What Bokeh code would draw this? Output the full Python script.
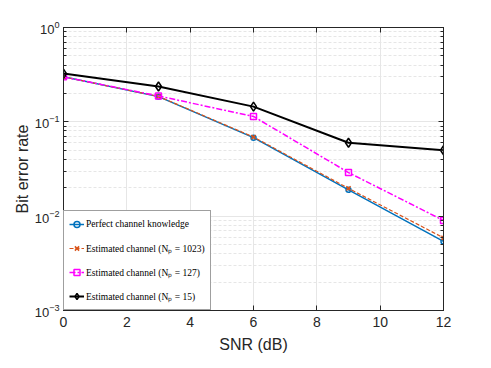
from bokeh.plotting import figure
from bokeh.models import Range1d, LogAxis, LinearAxis, LogTicker, FixedTicker, Legend, LegendItem, CustomJSTickFormatter
from bokeh.embed import file_html
from bokeh.resources import INLINE

snr = [0, 3, 6, 9, 12]
ber_perfect = [0.30, 0.185, 0.068, 0.0190, 0.0054]
ber_1023 = [0.30, 0.186, 0.069, 0.0197, 0.0059]
ber_127 = [0.30, 0.188, 0.114, 0.029, 0.0090]
ber_15 = [0.325, 0.237, 0.145, 0.060, 0.050]
labels = ["Perfect channel knowledge",
          "Estimated channel (Nₚ = 1023)",
          "Estimated channel (Nₚ = 127)",
          "Estimated channel (Nₚ = 15)"]
x_ticks = [0, 2, 4, 6, 8, 10, 12]

p = figure(width=475, height=360, y_axis_type="log", output_backend="svg",
           toolbar_location=None, x_range=Range1d(0, 12), y_range=Range1d(1e-3, 1),
           min_border_left=63, min_border_right=32, min_border_top=27, min_border_bottom=50)
p.outline_line_color = "#262626"
p.outline_line_width = 1
p.background_fill_color = "white"

tick_color = "#262626"
for ax in (p.xaxis[0], p.yaxis[0]):
    ax.major_tick_in = 5
    ax.major_tick_out = 0
    ax.minor_tick_in = 3
    ax.minor_tick_out = 0
    ax.axis_line_color = tick_color
    ax.major_tick_line_color = tick_color
    ax.major_label_text_font = "Liberation Sans"
    ax.major_label_text_font_size = "14px"
    ax.major_label_text_color = "#262626"
    ax.axis_label_text_font = "Liberation Sans"
    ax.axis_label_text_font_size = "16px"
    ax.axis_label_text_font_style = "normal"
    ax.axis_label_text_color = "#262626"

p.xaxis.ticker = FixedTicker(ticks=x_ticks)
p.xaxis.minor_tick_line_color = None
p.xaxis.major_label_standoff = 6
p.xaxis.axis_label_standoff = 6
p.yaxis.ticker = LogTicker(mantissas=[1], num_minor_ticks=10)
p.yaxis.minor_tick_line_color = tick_color
p.yaxis.major_label_text_font_size = "13px"
p.yaxis.major_label_standoff = 4
p.yaxis.axis_label_standoff = 1
p.xaxis.axis_label = "SNR (dB)"
p.yaxis.axis_label = "Bit error rate"

p.xgrid.grid_line_color = "#e6e6e6"
p.ygrid.grid_line_color = "#e6e6e6"
p.ygrid.minor_grid_line_color = "#e6e6e6"
p.ygrid.minor_grid_line_dash = "3 2"

blank = CustomJSTickFormatter(code="return ' ';")
ra = LogAxis(ticker=LogTicker(mantissas=[1], num_minor_ticks=10), formatter=blank,
             major_label_text_font_size="2px",
             major_tick_in=5, major_tick_out=0, minor_tick_in=3, minor_tick_out=0,
             axis_line_color=tick_color, major_tick_line_color=tick_color,
             minor_tick_line_color=tick_color, major_label_standoff=0)
p.add_layout(ra, "right")
ta = LinearAxis(ticker=FixedTicker(ticks=x_ticks), formatter=CustomJSTickFormatter(code="return ' ';"),
                major_label_text_font_size="2px",
                major_tick_in=5, major_tick_out=0, axis_line_color=tick_color,
                major_tick_line_color=tick_color, minor_tick_line_color=None, major_label_standoff=0)
p.add_layout(ta, "above")

blue = "#0072BD"
orange = "#D95319"
mag = "#FF00FF"

r1 = p.line(snr, ber_perfect, line_color=blue, line_width=1.5)
m1 = p.scatter(snr, ber_perfect, marker="circle", size=5, line_color=blue, fill_color=None, line_width=1.5)
r2 = p.line(snr, ber_1023, line_color=orange, line_width=1.2, line_dash="4 2")
m2 = p.scatter(snr, ber_1023, marker="x", size=6, line_color=orange, line_width=1.5)
r3 = p.line(snr, ber_127, line_color=mag, line_width=1.5, line_dash="6 2 2 2")
m3 = p.scatter(snr, ber_127, marker="square", size=6, line_color=mag, fill_color=None, line_width=1.5)
r4 = p.line(snr, ber_15, line_color="black", line_width=2)
m4 = p.scatter(snr, ber_15, marker="diamond", size=9, line_color="black", fill_color=None, line_width=1.5)

legend = Legend(items=[LegendItem(label=labels[0], renderers=[r1, m1]),
                       LegendItem(label=labels[1], renderers=[r2, m2]),
                       LegendItem(label=labels[2], renderers=[r3, m3]),
                       LegendItem(label=labels[3], renderers=[r4, m4])],
                location="bottom_left")
legend.label_text_font = "Liberation Serif"
legend.label_text_font_size = "9.5px"
legend.label_text_color = "black"
legend.glyph_width = 15
legend.glyph_height = 16
legend.label_height = 16
legend.label_standoff = 2
legend.spacing = 8
legend.padding = 5
legend.margin = 0
legend.border_line_color = "#404040"
legend.border_line_width = 1
legend.background_fill_alpha = 1
p.add_layout(legend)

open("out.html", "w").write(file_html(p, INLINE))
